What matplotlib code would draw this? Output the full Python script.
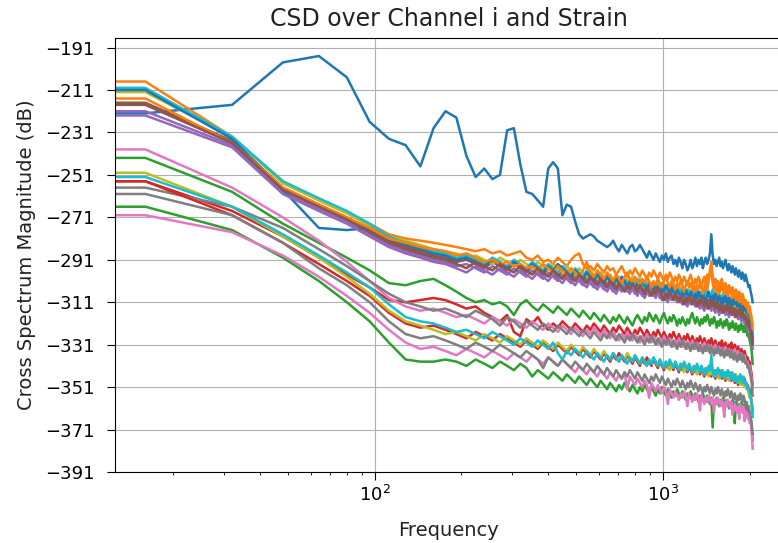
import numpy as np
import matplotlib.pyplot as plt

# frequency bins of the CSD estimate (fs = 4096 Hz, nperseg = 256)
freqs = np.arange(0, 2049, 16)

# CSD magnitude in dB for each channel against strain, one list per channel
ch00 = [-222,
        -222, -218, -198, -195, -205, -226, -234, -237, -247, -229,
        -221, -224, -242, -252, -248, -253, -251, -230, -229, -246,
        -259, -260, -263, -266, -248, -245, -248, -270, -265, -266,
        -273, -279, -281, -280, -279, -280, -282, -283, -284, -285,
        -284, -282, -285, -287, -284, -286, -288, -285, -284, -287,
        -286, -284, -286, -288, -290, -287, -289, -291, -288, -290,
        -292, -289, -291, -288, -292, -290, -289, -293, -291, -294,
        -290, -292, -295, -291, -293, -296, -294, -291, -295, -293,
        -290, -294, -291, -293, -290, -295, -292, -290, -293, -291,
        -288, -279, -289, -293, -291, -294, -292, -290, -294, -292,
        -295, -293, -291, -294, -296, -293, -295, -297, -294, -296,
        -298, -295, -297, -299, -296, -298, -300, -297, -299, -301,
        -298, -300, -302, -304, -303, -306, -308, -311]
ch01 = [-207,
        -207, -233, -254, -263, -269, -274, -279, -281, -282, -283,
        -284, -285, -286, -287, -286, -288, -287, -289, -288, -287,
        -290, -291, -289, -292, -291, -293, -290, -292, -294, -291,
        -289, -288, -293, -295, -294, -296, -293, -295, -297, -294,
        -296, -295, -298, -296, -294, -297, -299, -296, -298, -295,
        -297, -299, -296, -298, -300, -297, -299, -296, -298, -300,
        -297, -299, -301, -298, -300, -297, -299, -302, -299, -301,
        -298, -300, -302, -299, -301, -303, -300, -298, -301, -303,
        -300, -302, -299, -301, -304, -301, -299, -302, -298, -300,
        -296, -292, -299, -302, -300, -303, -301, -304, -302, -300,
        -303, -305, -302, -304, -306, -303, -305, -307, -304, -306,
        -308, -305, -307, -309, -306, -308, -310, -307, -309, -311,
        -310, -312, -311, -314, -313, -316, -318, -322]
ch02 = [-243,
        -243, -259, -274, -283, -290, -296, -302, -303, -301, -300,
        -303, -306, -309, -311, -310, -312, -311, -313, -317, -312,
        -310, -313, -315, -312, -314, -316, -313, -315, -317, -314,
        -316, -318, -315, -317, -319, -316, -318, -320, -317, -319,
        -321, -318, -320, -317, -319, -321, -318, -320, -322, -319,
        -317, -319, -321, -318, -320, -316, -318, -320, -317, -319,
        -321, -318, -316, -319, -321, -318, -320, -317, -319, -322,
        -319, -321, -318, -320, -322, -319, -321, -318, -316, -319,
        -321, -318, -320, -322, -319, -321, -318, -320, -317, -319,
        -322, -319, -321, -318, -320, -323, -320, -322, -319, -321,
        -323, -320, -322, -319, -321, -324, -321, -323, -320, -322,
        -324, -321, -323, -325, -322, -324, -321, -323, -325, -322,
        -325, -324, -327, -326, -329, -331, -334, -340]
ch03 = [-254,
        -254, -268, -280, -290, -298, -304, -310, -311, -310, -309,
        -310, -312, -314, -313, -316, -318, -320, -317, -325, -327,
        -319, -321, -318, -322, -324, -321, -323, -320, -322, -324,
        -321, -323, -325, -322, -324, -321, -323, -325, -322, -324,
        -326, -323, -325, -322, -324, -326, -323, -325, -327, -324,
        -326, -323, -325, -327, -324, -326, -328, -325, -327, -324,
        -326, -328, -325, -327, -329, -326, -328, -325, -327, -329,
        -326, -328, -330, -327, -329, -326, -328, -330, -327, -329,
        -331, -328, -330, -327, -329, -331, -328, -330, -332, -329,
        -331, -328, -330, -332, -329, -331, -333, -330, -332, -329,
        -331, -333, -330, -332, -334, -331, -333, -330, -332, -334,
        -331, -333, -335, -332, -334, -336, -333, -335, -337, -334,
        -336, -338, -337, -340, -339, -342, -345, -350]
ch04 = [-221,
        -221, -237, -259, -267, -273, -279, -284, -287, -289, -291,
        -292, -294, -293, -295, -297, -294, -296, -298, -295, -297,
        -299, -296, -298, -300, -297, -299, -301, -298, -300, -302,
        -299, -301, -303, -300, -302, -304, -301, -303, -305, -302,
        -304, -306, -303, -305, -302, -304, -306, -303, -305, -307,
        -304, -306, -308, -305, -307, -304, -306, -308, -305, -307,
        -309, -306, -308, -310, -307, -309, -306, -308, -310, -307,
        -309, -311, -308, -310, -312, -309, -311, -308, -310, -312,
        -309, -311, -313, -310, -312, -314, -311, -313, -310, -312,
        -314, -311, -313, -315, -312, -314, -311, -313, -315, -312,
        -314, -316, -313, -315, -317, -314, -316, -313, -315, -317,
        -314, -316, -318, -315, -317, -319, -316, -318, -315, -317,
        -319, -321, -320, -322, -324, -323, -326, -330]
ch05 = [-217,
        -217, -235, -257, -265, -271, -277, -282, -285, -287, -289,
        -290, -292, -291, -293, -295, -292, -294, -296, -293, -295,
        -297, -294, -296, -298, -295, -297, -299, -296, -298, -300,
        -297, -299, -301, -298, -300, -302, -299, -301, -303, -300,
        -302, -304, -301, -303, -305, -302, -304, -301, -303, -305,
        -307, -304, -306, -303, -305, -307, -304, -306, -308, -305,
        -307, -309, -306, -308, -305, -307, -309, -306, -308, -310,
        -307, -309, -311, -308, -310, -307, -309, -311, -308, -310,
        -312, -309, -311, -308, -310, -312, -309, -311, -313, -310,
        -312, -309, -311, -313, -310, -312, -314, -311, -313, -310,
        -312, -314, -311, -313, -315, -312, -314, -311, -313, -315,
        -312, -314, -316, -313, -315, -317, -314, -316, -318, -315,
        -317, -319, -318, -320, -322, -321, -324, -329]
ch06 = [-239,
        -239, -257, -271, -282, -292, -301, -309, -313, -315, -314,
        -316, -318, -317, -319, -321, -318, -320, -322, -319, -321,
        -323, -320, -322, -324, -321, -323, -325, -322, -324, -326,
        -323, -325, -327, -324, -326, -323, -325, -327, -324, -326,
        -328, -325, -327, -329, -326, -328, -325, -327, -329, -326,
        -328, -330, -327, -329, -326, -328, -330, -327, -329, -331,
        -328, -330, -327, -329, -331, -328, -330, -332, -329, -331,
        -328, -330, -332, -329, -331, -333, -330, -332, -329, -331,
        -333, -330, -332, -334, -331, -333, -330, -332, -334, -331,
        -333, -335, -332, -334, -331, -333, -335, -332, -334, -336,
        -333, -335, -332, -334, -336, -333, -335, -337, -334, -336,
        -333, -335, -337, -334, -336, -338, -335, -337, -339, -336,
        -338, -340, -339, -342, -341, -344, -347, -352]
ch07 = [-257,
        -257, -266, -276, -286, -294, -301, -307, -311, -313, -315,
        -314, -316, -318, -315, -317, -319, -322, -318, -320, -323,
        -320, -322, -324, -321, -323, -325, -322, -324, -326, -323,
        -325, -327, -324, -326, -328, -325, -327, -329, -326, -328,
        -325, -327, -329, -326, -328, -330, -327, -329, -326, -328,
        -330, -327, -329, -331, -328, -330, -327, -329, -331, -328,
        -330, -332, -329, -331, -328, -330, -332, -329, -331, -333,
        -330, -332, -329, -331, -333, -330, -332, -334, -331, -333,
        -330, -332, -334, -331, -333, -335, -332, -334, -331, -333,
        -335, -332, -334, -336, -333, -335, -332, -334, -336, -333,
        -335, -337, -334, -336, -333, -335, -337, -334, -336, -338,
        -335, -337, -339, -336, -338, -335, -337, -339, -336, -338,
        -340, -339, -342, -341, -344, -346, -349, -355]
ch08 = [-212,
        -212, -233, -255, -263, -269, -275, -280, -282, -284, -286,
        -287, -288, -290, -289, -291, -293, -290, -292, -294, -291,
        -293, -295, -292, -294, -296, -293, -295, -297, -294, -296,
        -298, -295, -297, -299, -296, -298, -300, -297, -299, -301,
        -298, -300, -302, -299, -301, -303, -300, -302, -299, -301,
        -303, -300, -302, -304, -301, -303, -305, -302, -304, -301,
        -303, -305, -302, -304, -306, -303, -305, -302, -304, -306,
        -303, -305, -307, -304, -306, -308, -305, -307, -304, -306,
        -308, -305, -307, -309, -306, -308, -305, -307, -309, -306,
        -308, -310, -307, -309, -306, -308, -310, -307, -309, -311,
        -308, -310, -312, -309, -311, -308, -310, -312, -309, -311,
        -313, -310, -312, -314, -311, -313, -310, -312, -314, -316,
        -313, -315, -317, -316, -319, -318, -321, -325]
ch09 = [-210,
        -210, -233, -254, -262, -268, -274, -280, -283, -285, -287,
        -288, -290, -289, -291, -293, -290, -292, -294, -291, -293,
        -295, -292, -294, -296, -293, -295, -297, -294, -296, -298,
        -295, -297, -299, -296, -298, -300, -297, -299, -301, -298,
        -300, -302, -299, -301, -303, -300, -302, -304, -301, -303,
        -300, -302, -304, -301, -303, -305, -302, -304, -306, -303,
        -305, -302, -304, -306, -303, -305, -307, -304, -306, -308,
        -305, -307, -304, -306, -308, -305, -307, -309, -306, -308,
        -305, -307, -309, -306, -308, -310, -307, -305, -308, -306,
        -309, -307, -305, -308, -310, -307, -309, -311, -308, -310,
        -307, -309, -311, -308, -310, -312, -309, -311, -308, -310,
        -312, -309, -311, -313, -310, -312, -314, -311, -313, -315,
        -313, -316, -315, -318, -317, -320, -323, -327]
ch10 = [-211,
        -211, -234, -258, -276, -277, -276, -281, -284, -286, -288,
        -289, -291, -290, -292, -294, -291, -293, -295, -292, -294,
        -296, -293, -295, -297, -294, -296, -293, -295, -297, -299,
        -296, -298, -300, -297, -299, -301, -298, -300, -302, -299,
        -301, -303, -300, -302, -299, -301, -304, -301, -303, -305,
        -302, -304, -301, -303, -305, -302, -304, -306, -303, -305,
        -307, -304, -306, -303, -305, -307, -304, -306, -308, -305,
        -307, -309, -306, -308, -305, -307, -309, -306, -308, -310,
        -307, -309, -306, -308, -310, -307, -309, -311, -308, -306,
        -309, -311, -308, -310, -307, -309, -311, -308, -310, -312,
        -309, -311, -308, -310, -312, -309, -311, -313, -310, -312,
        -309, -311, -313, -310, -312, -314, -311, -313, -315, -312,
        -314, -316, -315, -317, -319, -321, -324, -328]
ch11 = [-215,
        -215, -236, -257, -265, -271, -276, -281, -283, -285, -286,
        -287, -289, -288, -290, -292, -291, -293, -292, -294, -293,
        -295, -294, -296, -293, -295, -297, -294, -296, -298, -295,
        -297, -299, -296, -292, -297, -299, -296, -298, -300, -297,
        -299, -301, -298, -300, -302, -299, -297, -300, -302, -299,
        -301, -303, -300, -302, -299, -301, -304, -301, -303, -300,
        -302, -304, -301, -299, -302, -304, -301, -303, -305, -302,
        -304, -301, -303, -306, -303, -301, -304, -302, -305, -303,
        -306, -303, -305, -302, -304, -307, -304, -302, -305, -301,
        -298, -294, -302, -305, -303, -306, -304, -307, -305, -303,
        -306, -304, -307, -305, -308, -306, -304, -307, -309, -306,
        -308, -310, -307, -309, -311, -308, -310, -312, -309, -311,
        -313, -311, -314, -316, -315, -318, -320, -324]
ch12 = [-266,
        -266, -277, -290, -301, -311, -320, -330, -338, -339, -339,
        -338, -339, -341, -338, -340, -342, -339, -341, -343, -340,
        -342, -346, -343, -345, -347, -344, -346, -348, -345, -347,
        -349, -346, -348, -350, -347, -349, -351, -348, -350, -352,
        -349, -351, -353, -350, -352, -349, -351, -353, -350, -352,
        -354, -351, -353, -350, -352, -354, -351, -353, -355, -352,
        -354, -351, -353, -355, -352, -354, -356, -353, -355, -352,
        -354, -356, -353, -355, -357, -354, -356, -353, -355, -357,
        -354, -356, -358, -355, -357, -354, -356, -358, -355, -357,
        -359, -356, -370, -357, -359, -356, -358, -360, -357, -359,
        -356, -358, -360, -357, -359, -361, -358, -360, -357, -359,
        -368, -358, -360, -362, -359, -361, -358, -360, -362, -359,
        -361, -363, -360, -364, -366, -365, -370, -376]
ch13 = [-254,
        -254, -270, -283, -293, -301, -308, -316, -321, -323, -322,
        -324, -326, -328, -325, -327, -329, -326, -328, -330, -332,
        -329, -331, -333, -330, -332, -334, -331, -333, -335, -332,
        -334, -336, -333, -335, -337, -334, -336, -338, -335, -337,
        -339, -336, -338, -335, -337, -339, -336, -338, -340, -337,
        -339, -341, -338, -340, -337, -339, -341, -338, -340, -342,
        -339, -341, -343, -340, -342, -339, -341, -343, -340, -342,
        -344, -341, -343, -340, -342, -344, -341, -343, -345, -342,
        -344, -341, -343, -345, -342, -344, -346, -343, -345, -342,
        -344, -346, -343, -345, -347, -344, -346, -343, -345, -347,
        -344, -346, -348, -345, -347, -344, -346, -348, -345, -347,
        -349, -346, -348, -350, -347, -349, -346, -348, -350, -347,
        -349, -351, -350, -353, -352, -355, -358, -362]
ch14 = [-223,
        -223, -238, -260, -268, -274, -280, -285, -288, -290, -292,
        -293, -295, -297, -294, -296, -298, -295, -297, -299, -296,
        -298, -300, -297, -299, -301, -298, -300, -302, -299, -301,
        -303, -300, -302, -304, -301, -303, -305, -302, -304, -306,
        -303, -305, -307, -304, -306, -303, -305, -307, -304, -306,
        -308, -305, -307, -309, -306, -308, -305, -307, -309, -306,
        -308, -310, -307, -309, -311, -308, -310, -307, -309, -311,
        -308, -310, -312, -309, -311, -313, -310, -312, -309, -311,
        -313, -310, -312, -314, -311, -313, -315, -312, -314, -311,
        -313, -315, -312, -314, -316, -313, -315, -317, -314, -316,
        -313, -315, -317, -314, -316, -318, -315, -317, -314, -316,
        -318, -315, -317, -319, -316, -318, -320, -317, -319, -321,
        -320, -322, -324, -323, -325, -327, -329, -333]
ch15 = [-218,
        -218, -236, -258, -266, -272, -278, -283, -286, -288, -290,
        -291, -293, -295, -292, -294, -296, -293, -295, -297, -294,
        -296, -298, -295, -297, -299, -296, -298, -300, -297, -299,
        -301, -298, -300, -302, -299, -301, -303, -300, -302, -304,
        -301, -303, -305, -302, -304, -306, -303, -305, -302, -304,
        -306, -303, -305, -307, -304, -306, -308, -305, -307, -304,
        -306, -308, -310, -307, -309, -306, -308, -310, -307, -309,
        -311, -308, -310, -312, -309, -311, -308, -310, -312, -309,
        -311, -313, -310, -312, -309, -311, -313, -310, -312, -314,
        -311, -313, -310, -312, -314, -311, -313, -315, -312, -314,
        -316, -313, -315, -312, -314, -316, -313, -315, -317, -314,
        -316, -318, -315, -317, -314, -316, -318, -315, -317, -319,
        -318, -320, -322, -321, -323, -325, -327, -331]
ch16 = [-270,
        -270, -278, -289, -299, -308, -316, -324, -330, -333, -332,
        -334, -336, -333, -335, -337, -334, -336, -338, -335, -337,
        -339, -336, -338, -340, -337, -339, -341, -338, -340, -342,
        -344, -341, -343, -345, -342, -344, -346, -343, -345, -347,
        -344, -346, -348, -345, -347, -344, -352, -346, -348, -350,
        -347, -349, -351, -348, -350, -356, -349, -351, -353, -350,
        -352, -354, -351, -353, -359, -352, -354, -356, -353, -355,
        -357, -354, -356, -353, -355, -360, -354, -356, -358, -355,
        -357, -354, -356, -362, -355, -357, -359, -356, -358, -355,
        -357, -359, -356, -363, -357, -359, -356, -358, -360, -357,
        -359, -365, -358, -360, -357, -359, -361, -358, -364, -362,
        -359, -361, -363, -360, -366, -359, -361, -363, -360, -367,
        -362, -364, -366, -363, -368, -367, -372, -380]
ch17 = [-260,
        -260, -270, -283, -295, -303, -311, -320, -326, -328, -327,
        -329, -331, -333, -330, -332, -334, -331, -333, -335, -337,
        -334, -336, -338, -342, -337, -339, -341, -338, -340, -342,
        -339, -341, -343, -340, -342, -344, -341, -343, -345, -342,
        -344, -346, -343, -345, -347, -344, -346, -343, -345, -347,
        -344, -346, -348, -345, -347, -349, -346, -348, -345, -347,
        -349, -346, -348, -350, -347, -349, -351, -348, -350, -347,
        -349, -351, -348, -350, -352, -349, -351, -348, -350, -352,
        -349, -351, -353, -350, -352, -354, -351, -353, -350, -352,
        -354, -351, -353, -355, -352, -354, -351, -353, -355, -352,
        -354, -356, -353, -355, -352, -354, -356, -353, -355, -357,
        -354, -356, -358, -355, -357, -354, -356, -358, -355, -357,
        -359, -358, -361, -360, -363, -365, -368, -373]
ch18 = [-250,
        -250, -266, -280, -290, -299, -307, -315, -320, -322, -324,
        -326, -325, -327, -329, -326, -328, -330, -327, -329, -331,
        -328, -330, -332, -329, -331, -333, -330, -332, -334, -331,
        -333, -335, -332, -334, -336, -333, -335, -337, -334, -336,
        -338, -335, -337, -339, -336, -338, -335, -337, -339, -336,
        -338, -340, -337, -339, -341, -338, -340, -337, -339, -341,
        -338, -340, -342, -339, -341, -343, -340, -342, -339, -341,
        -343, -340, -342, -344, -341, -343, -340, -342, -344, -341,
        -343, -345, -342, -344, -341, -343, -345, -342, -344, -346,
        -343, -345, -342, -344, -346, -343, -345, -347, -344, -346,
        -343, -345, -347, -344, -346, -348, -345, -347, -344, -346,
        -348, -345, -347, -349, -346, -348, -350, -347, -349, -351,
        -350, -352, -351, -354, -356, -355, -358, -363]
ch19 = [-252,
        -252, -266, -279, -289, -297, -304, -312, -318, -320, -321,
        -323, -325, -324, -326, -328, -325, -327, -329, -331, -328,
        -330, -332, -329, -331, -333, -330, -335, -338, -334, -336,
        -333, -335, -337, -334, -336, -338, -335, -337, -339, -336,
        -338, -335, -337, -339, -336, -338, -340, -337, -339, -336,
        -338, -340, -337, -339, -341, -338, -340, -337, -339, -341,
        -338, -340, -342, -339, -341, -338, -340, -342, -339, -341,
        -343, -340, -342, -339, -341, -343, -340, -342, -344, -341,
        -343, -340, -342, -344, -341, -343, -345, -342, -344, -341,
        -343, -336, -344, -346, -343, -345, -342, -344, -346, -343,
        -345, -347, -344, -346, -343, -345, -347, -344, -346, -348,
        -345, -347, -349, -346, -348, -345, -347, -349, -346, -348,
        -350, -349, -352, -351, -354, -356, -359, -365]

channels = [ch00, ch01, ch02, ch03, ch04, ch05, ch06, ch07, ch08, ch09,
            ch10, ch11, ch12, ch13, ch14, ch15, ch16, ch17, ch18, ch19]

yticks = np.arange(-391, -190, 20)

fig = plt.figure(figsize=(7.78, 5.43), dpi=100)
ax = fig.add_axes([115 / 778, 71 / 543, 668 / 778, 434 / 543])

for csd in channels:
    ax.plot(freqs, csd, linewidth=1.8)

ax.set_xscale('log')
ax.set_ylim(-391, -186.5)
ax.set_yticks(yticks)
ax.grid(True)
ax.tick_params(labelsize=13, length=6)
ax.tick_params(axis='y', pad=9)
ax.set_title('CSD over Channel i and Strain', fontsize=17, pad=9, color='#222222')
ax.set_xlabel('Frequency', fontsize=14, labelpad=11, color='#222222')
ax.set_ylabel('Cross Spectrum Magnitude (dB)', fontsize=14, labelpad=6, color='#222222')

fig.savefig('out.png', dpi=100)
